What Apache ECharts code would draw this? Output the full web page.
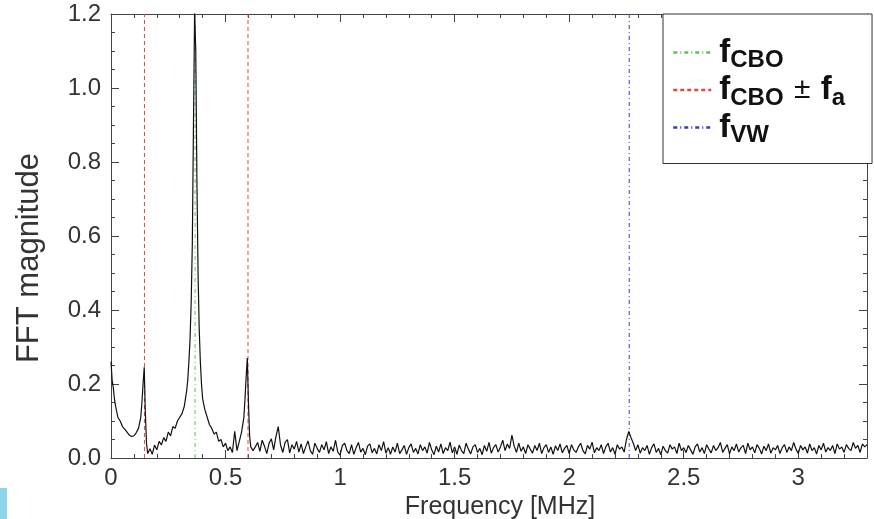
<!DOCTYPE html>
<html>
<head>
<meta charset="utf-8">
<script src="https://cdn.jsdelivr.net/npm/echarts@6/dist/echarts.min.js"></script>
<style>
  html, body { margin: 0; padding: 0; background: #fff; }
  #chart { width: 874px; height: 519px; }
</style>
</head>
<body>
<div id="chart"></div>
<script>
// low-frequency part of the spectrum, [frequency MHz, magnitude]
const peakRegion = [
  [0, 0.26], [0.005, 0.21], [0.01, 0.19], [0.015, 0.16], [0.02, 0.14], [0.025, 0.125],
  [0.03, 0.11], [0.04, 0.10], [0.05, 0.085], [0.06, 0.078], [0.07, 0.07], [0.08, 0.062],
  [0.09, 0.058], [0.10, 0.06], [0.11, 0.068], [0.12, 0.08], [0.13, 0.11], [0.135, 0.15],
  [0.14, 0.20], [0.145, 0.245], [0.15, 0.12], [0.155, 0.04], [0.16, 0.012], [0.17, 0.025],
  [0.18, 0.01], [0.19, 0.035], [0.20, 0.022], [0.21, 0.045], [0.22, 0.035], [0.23, 0.055],
  [0.24, 0.045], [0.25, 0.07], [0.26, 0.06], [0.27, 0.085], [0.28, 0.08], [0.29, 0.10],
  [0.30, 0.11], [0.31, 0.12], [0.32, 0.14], [0.33, 0.18], [0.335, 0.21], [0.34, 0.26],
  [0.345, 0.32], [0.35, 0.42], [0.355, 0.58], [0.36, 0.90], [0.365, 1.21], [0.37, 1.10],
  [0.375, 0.75], [0.38, 0.50], [0.385, 0.35], [0.39, 0.26], [0.395, 0.20], [0.40, 0.16],
  [0.41, 0.13], [0.42, 0.11], [0.43, 0.09], [0.44, 0.08], [0.45, 0.065], [0.46, 0.07],
  [0.47, 0.045], [0.48, 0.05], [0.49, 0.03], [0.50, 0.04], [0.51, 0.02], [0.52, 0.03],
  [0.53, 0.015], [0.54, 0.072], [0.55, 0.02], [0.56, 0.045], [0.57, 0.07], [0.58, 0.11],
  [0.585, 0.16], [0.59, 0.22], [0.595, 0.27], [0.60, 0.15], [0.605, 0.06], [0.61, 0.03],
  [0.62, 0.02]
];

// noise floor, sampled every 0.01 MHz from 0.63 MHz
const noiseStart = 0.63;
const noiseStep = 0.01;
const noiseMag = [
  0.030, 0.042, 0.018, 0.048, 0.032, 0.012, 0.040, 0.052, 0.022, 0.058,
  0.085, 0.035, 0.015, 0.042, 0.050, 0.014, 0.036, 0.024, 0.045, 0.016,
  0.038, 0.012, 0.030, 0.046, 0.020, 0.010, 0.040, 0.026, 0.015, 0.036,
  0.022, 0.044, 0.012, 0.030, 0.018, 0.048, 0.016, 0.008, 0.034, 0.040,
  0.020, 0.012, 0.036, 0.010, 0.028, 0.042, 0.016, 0.026, 0.009, 0.032,
  0.038, 0.014, 0.026, 0.011, 0.036, 0.020, 0.044, 0.013, 0.028, 0.010,
  0.030, 0.016, 0.040, 0.012, 0.022, 0.034, 0.010, 0.028, 0.038, 0.015,
  0.026, 0.011, 0.036, 0.020, 0.030, 0.013, 0.042, 0.022, 0.009, 0.032,
  0.016, 0.038, 0.012, 0.028, 0.020, 0.043, 0.014, 0.030, 0.010, 0.035,
  0.020, 0.012, 0.040, 0.024, 0.011, 0.030, 0.036, 0.015, 0.026, 0.009,
  0.034, 0.018, 0.042, 0.013, 0.028, 0.036, 0.016, 0.030, 0.048, 0.020,
  0.038, 0.026, 0.062, 0.032, 0.015, 0.040, 0.018, 0.030, 0.012, 0.036,
  0.024, 0.013, 0.034, 0.020, 0.040, 0.012, 0.028, 0.036, 0.015, 0.030,
  0.010, 0.033, 0.020, 0.038, 0.014, 0.026, 0.034, 0.012, 0.036, 0.022,
  0.015, 0.030, 0.040, 0.020, 0.011, 0.034, 0.024, 0.043, 0.014, 0.028,
  0.020, 0.036, 0.012, 0.030, 0.040, 0.016, 0.028, 0.010, 0.036, 0.024,
  0.030, 0.016, 0.050, 0.072, 0.055, 0.040, 0.020, 0.036, 0.013, 0.028,
  0.020, 0.034, 0.010, 0.028, 0.038, 0.015, 0.026, 0.009, 0.032, 0.020,
  0.013, 0.036, 0.024, 0.030, 0.012, 0.040, 0.020, 0.028, 0.015, 0.034,
  0.022, 0.010, 0.030, 0.038, 0.016, 0.028, 0.012, 0.036, 0.024, 0.014,
  0.034, 0.020, 0.028, 0.042, 0.015, 0.026, 0.036, 0.011, 0.030, 0.020,
  0.038, 0.016, 0.028, 0.034, 0.012, 0.040, 0.022, 0.030, 0.014, 0.036,
  0.026, 0.011, 0.032, 0.020, 0.038, 0.013, 0.028, 0.022, 0.034, 0.012,
  0.028, 0.036, 0.015, 0.030, 0.020, 0.042, 0.024, 0.012, 0.034, 0.022,
  0.030, 0.013, 0.038, 0.020, 0.028, 0.011, 0.034, 0.022, 0.040, 0.016,
  0.028, 0.020, 0.034, 0.012, 0.038, 0.024, 0.030, 0.015, 0.036, 0.026,
  0.020, 0.042, 0.026, 0.034, 0.015, 0.038, 0.030, 0.036
];

const fCboLines = [0.367];
const sidebandLines = [0.146, 0.598];
const fVwLines = [2.262];

const xMin = 0, xMax = 3.3;
const yMin = 0, yMax = 1.2;

const spectrum = peakRegion.concat(
  noiseMag.map((v, i) => [+(noiseStart + i * noiseStep).toFixed(3), v])
);

const vline = (name, x, color, type) => ({
  name: name,
  type: 'line',
  symbol: 'none',
  silent: true,
  z: 3,
  lineStyle: { color: color, width: 1, type: type },
  itemStyle: { color: color },
  data: [[x, yMin], [x, yMax]]
});

const dashDot = [4, 3, 1, 3];
const font = 'Liberation Sans, Arial, sans-serif';
const axisColor = '#444';

const chart = echarts.init(document.getElementById('chart'));
const axisBase = (extra, minorSplit) => Object.assign({
  type: 'value',
  axisLine: { show: true, onZero: false, lineStyle: { color: axisColor, width: 1 } },
  splitLine: { show: false },
  axisTick: { show: true, inside: true, length: 8, lineStyle: { color: axisColor } },
  minorTick: { show: true, splitNumber: minorSplit, length: 4, lineStyle: { color: axisColor } }
}, extra);

chart.setOption({
  animation: false,
  textStyle: { fontFamily: font },
  grid: { left: 111, right: 7, top: 14, bottom: 61, outerBoundsMode: 'none' },
  xAxis: [
    axisBase({
      min: xMin, max: xMax, interval: 0.5,
      axisLabel: { fontSize: 24, color: '#333', margin: 8, showMaxLabel: false },
      name: 'Frequency [MHz]', nameLocation: 'middle', nameGap: 25,
      nameTextStyle: { fontSize: 25, color: '#333', padding: [0, 0, 0, 22] }
    }, 5),
    axisBase({
      position: 'top', min: xMin, max: xMax, interval: 0.5,
      axisLabel: { show: false }
    }, 5)
  ],
  yAxis: [
    axisBase({
      min: yMin, max: yMax, interval: 0.2,
      axisLabel: { fontSize: 24, color: '#333', margin: 10, formatter: v => v.toFixed(1) },
      name: 'FFT magnitude', nameLocation: 'middle', nameGap: 66, nameRotate: 90,
      nameTextStyle: { fontSize: 31, color: '#333', padding: [0, 44, 0, 0] }
    }, 4),
    axisBase({
      position: 'right', min: yMin, max: yMax, interval: 0.2,
      axisLabel: { show: false }
    }, 4)
  ],
  legend: {
    orient: 'vertical',
    left: 663, top: 14,
    padding: [22, 27, 16, 9],
    itemGap: 1,
    itemWidth: 38, itemHeight: 20,
    backgroundColor: '#fff',
    borderColor: '#333', borderWidth: 1, borderRadius: 0,
    lineStyle: { width: 2.5 },
    itemStyle: { opacity: 0 },
    data: ['fCBO', 'fCBO±fa', 'fVW'],
    formatter: function (name) {
      if (name === 'fCBO') return '{f|f}{s|CBO}';
      if (name === 'fVW') return '{f|f}{s|VW}';
      return '{f|f}{s|CBO}{pm| ± }{f|f}{s|a}';
    },
    textStyle: {
      padding: [0, 0, 0, 3],
      rich: {
        f: { fontSize: 33, fontWeight: 'bold', color: '#111', fontFamily: font },
        s: { fontSize: 24, fontWeight: 'bold', color: '#111', fontFamily: font, padding: [16, 0, 0, 0] },
        pm: { fontSize: 30, color: '#111', fontFamily: font, padding: [0, 2, 0, 2] }
      }
    }
  },
  graphic: [
    { type: 'rect', left: 0, top: 488, shape: { width: 7, height: 31 }, style: { fill: '#8ed4ea' } }
  ],
  series: [
    {
      name: 'spectrum',
      type: 'line',
      symbol: 'none',
      z: 4,
      lineStyle: { color: '#111', width: 1.2 },
      data: spectrum
    },
    vline('fCBO', fCboLines[0], '#5cc25c', dashDot),
    vline('fCBO±fa', sidebandLines[0], '#e0454a', [4, 3]),
    vline('fCBO±fa', sidebandLines[1], '#e0454a', [4, 3]),
    vline('fVW', fVwLines[0], '#3a3ac8', dashDot)
  ]
});
</script>
</body>
</html>
